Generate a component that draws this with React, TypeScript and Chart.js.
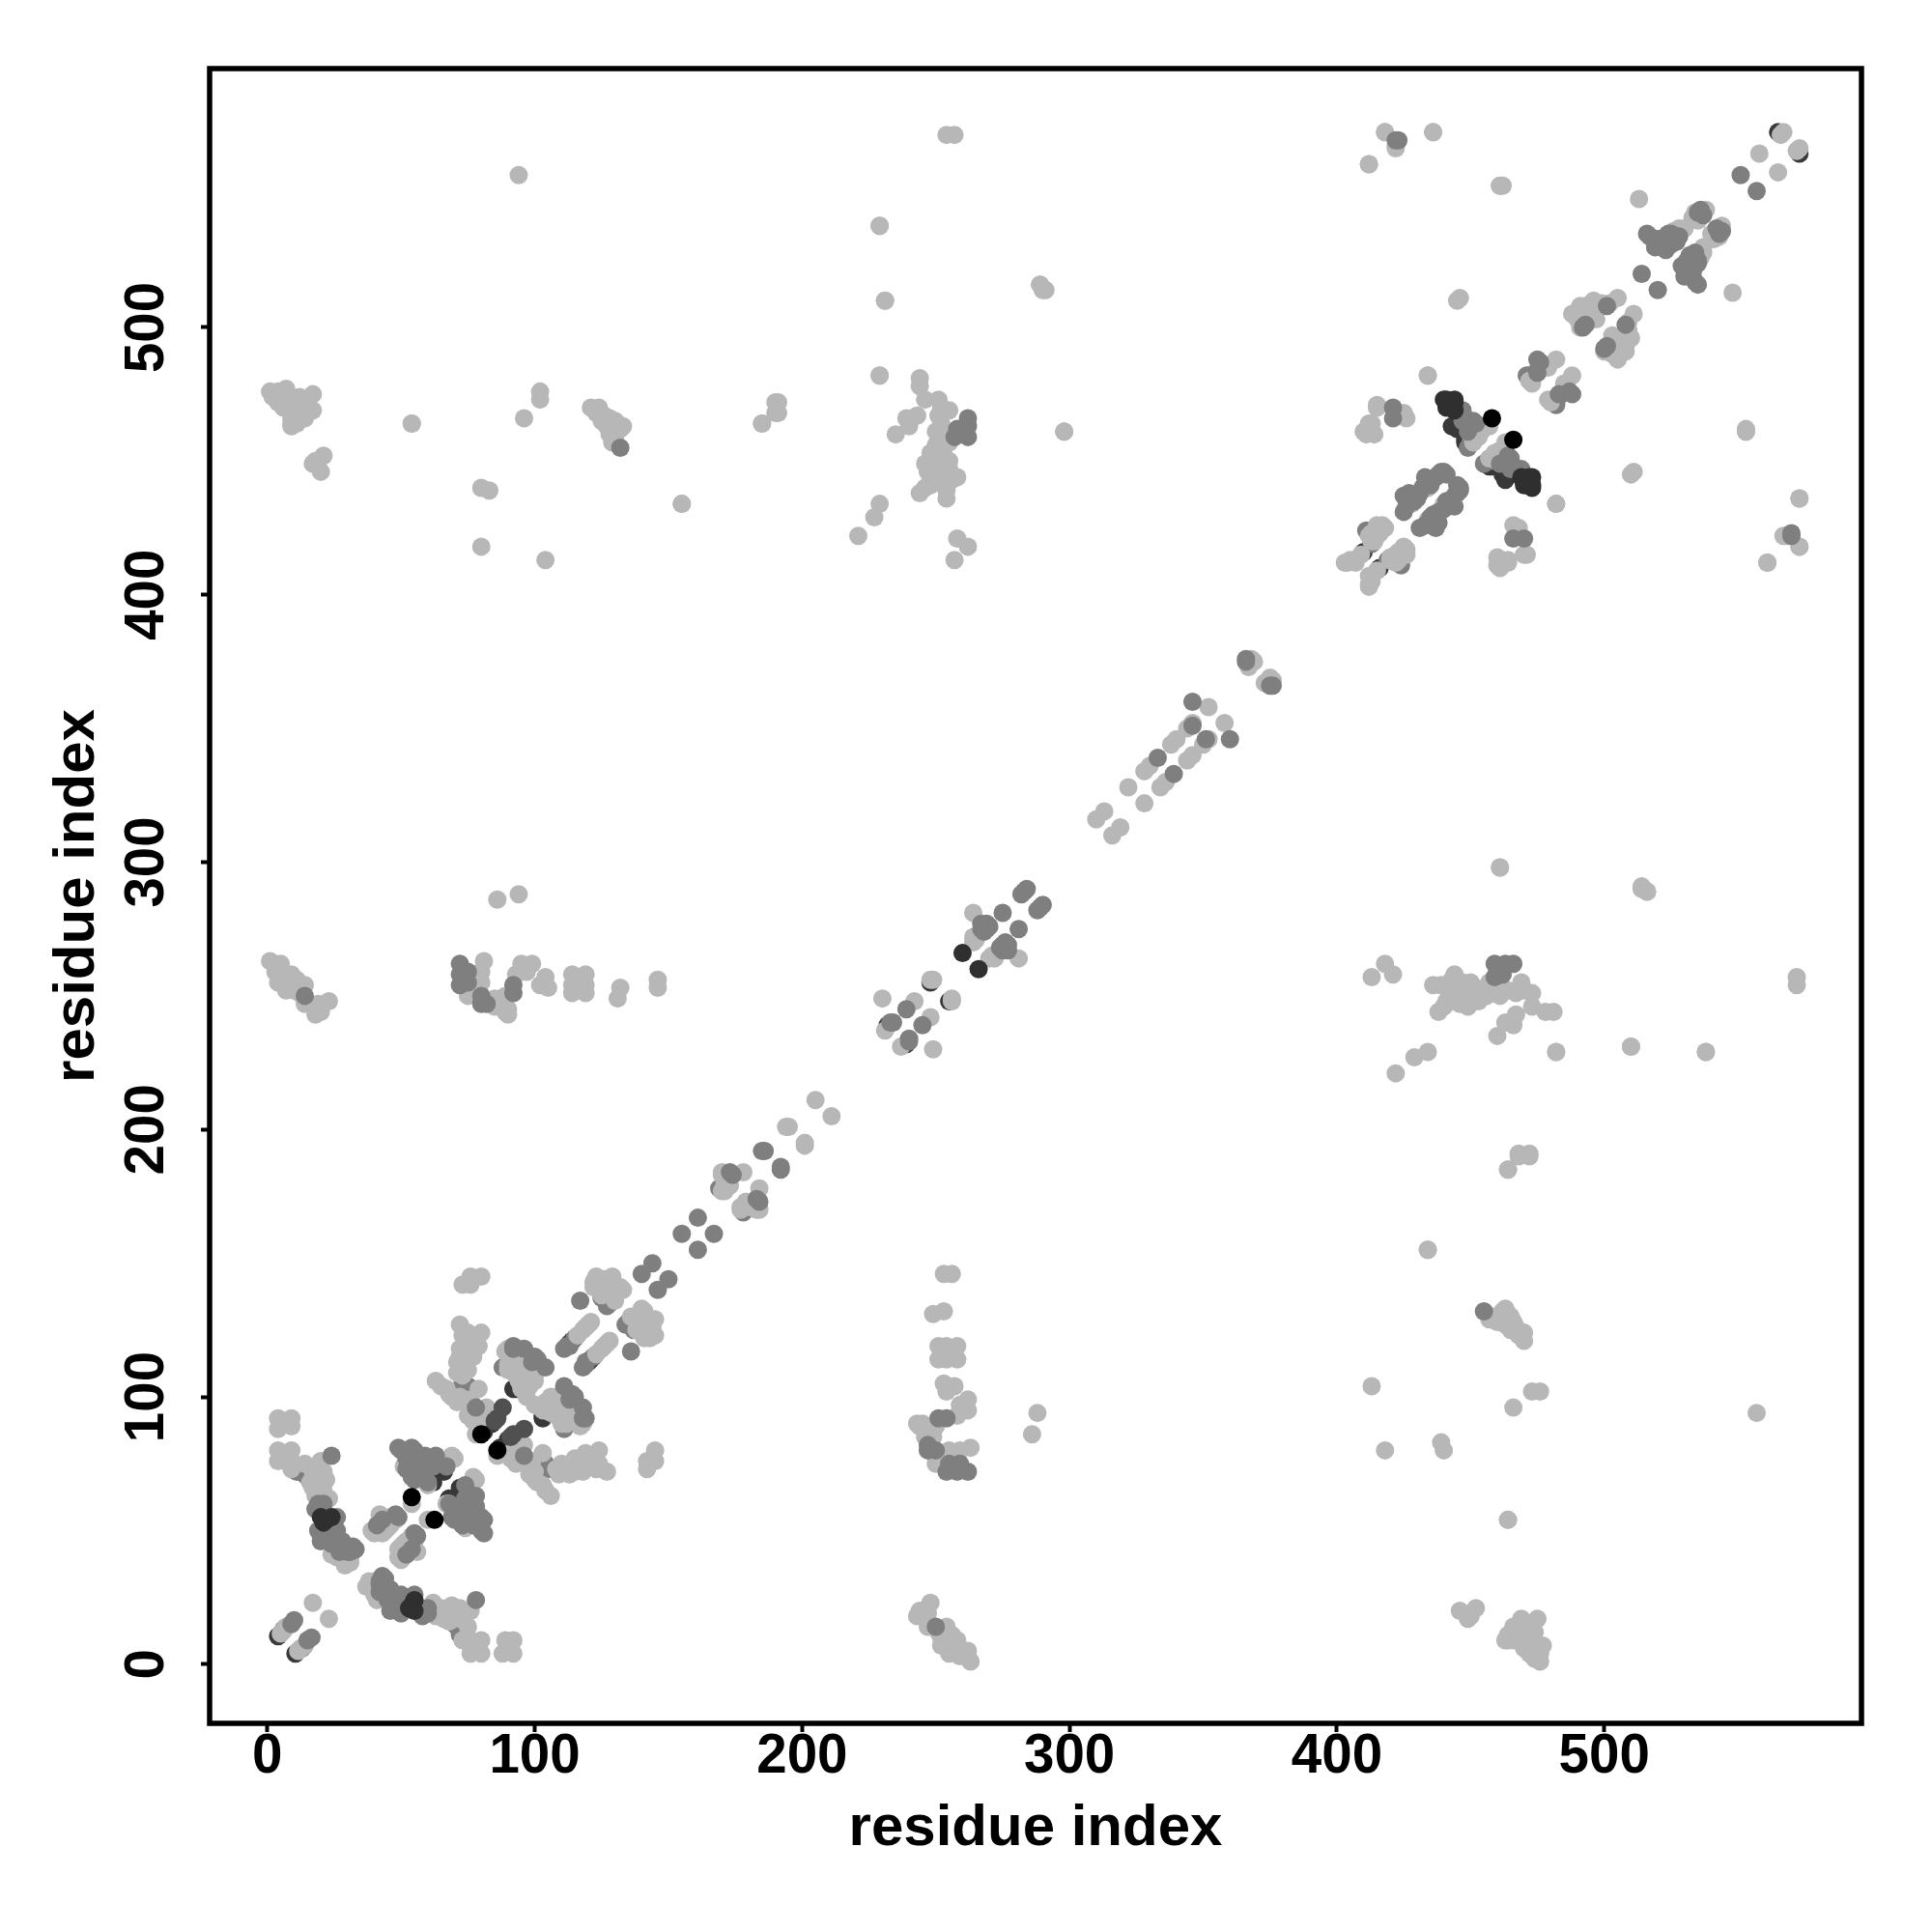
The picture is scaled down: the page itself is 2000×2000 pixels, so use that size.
import React, { useEffect, useRef } from "react";
import { Chart, registerables } from "chart.js";

Chart.register(...registerables);

type Pair = [number, number];

const tickValues = [0, 100, 200, 300, 400, 500];
const axisTitle = "residue index";

const darkLow: Pair[] = [
  [4, 10.5], [75, 114], [81, 87], [84, 90], [92, 103], [93, 103], [95, 115], [113, 120], [114, 121], [129, 142], [128, 136],
  [232, 239], [410, 416], [248, 255], [62, 70], [66, 72], [62, 68], [448, 457], [448, 458], [565, 573], [445, 462], [443, 463],
];
const midLow: Pair[] = [
  [11, 72], [14, 71], [15, 70], [6, 13], [111, 118], [112, 119], [75, 104], [74, 100], [76, 94], [76, 118],
  [88, 111], [127, 134], [125, 137], [128, 135], [169, 178], [411, 424], [413, 419], [414, 423], [472, 482],
  [475, 484], [471, 482], [449, 455], [84, 93], [115, 122], [113, 119], [73, 105], [74, 102], [450, 457],
];
const light: Pair[] = [
  [5, 11.5], [6, 12.5], [7, 14], [17, 23],
  [4, 92], [9, 92], [4, 88], [9, 89], [6, 90], [4, 80], [9, 80], [4, 76], [9, 76], [9, 73], [14, 75], [20, 76], [17, 72], [16, 68], [22, 69], [21, 65], [17, 66], [18, 63],
  [20, 66], [19, 68], [18, 70], [20, 70], [21, 72], [23, 62], [22, 62], [20, 63], [21, 58],
  [26, 40], [29, 37], [24, 41], [31, 38], [31, 40],
  [42, 56], [40, 49], [45, 53], [47, 55], [44, 50], [54, 60], [51, 74], [60, 68], [69, 78], [67, 60], [77, 70],
  [41, 50], [43, 52], [42, 53], [44, 54], [46, 52], [46, 55], [39, 50], [45, 51], [43, 49], [44, 53], [46, 54], [48, 54],
  [72, 127], [80, 124], [73, 123], [79, 119], [72, 118], [71, 113], [75, 110], [71, 109], [75, 124], [73, 142], [76, 145], [80, 145], [76, 142], [73, 114],
  [72, 115], [74, 120], [78, 120], [77, 115], [74, 112], [72, 110], [73, 108],
  [63, 106], [67, 103], [65, 104], [71, 98], [76, 99], [82, 96], [75, 93], [78, 86], [77, 91], [79, 103], [69, 100], [68, 101], [72, 100], [74, 98], [78, 94], [80, 92], [78, 91],
  [90, 118], [90, 112], [93, 108], [97, 103], [96, 110], [92, 113], [97, 106], [90, 117], [97, 100], [89, 117], [90, 110],
  [91, 115], [93, 116], [94, 112], [96, 108], [98, 104], [92, 110], [94, 106], [96, 104], [100, 108], [95, 103], [100, 106], [99, 110],
  [121, 128], [118, 125], [119, 126], [120, 127], [116, 123], [123, 145], [122, 141], [127, 142], [133, 140], [130, 136], [125, 138], [124, 144], [124, 142],
  [126, 140], [128, 143], [131, 139], [126, 144], [129, 145], [125, 140], [132, 141], [122, 143],
  [170, 183], [170, 177], [173, 179], [178, 184], [170, 184], [172, 181], [171, 180], [171, 177],
  [194, 201], [195, 201], [205, 211],
  [230, 249], [242, 248], [231, 237], [249, 256], [248, 256],
  [264, 281], [265, 271], [264, 272], [264, 270],
  [310, 316], [313, 319], [322, 328], [328, 334], [330, 336], [338, 344], [340, 346], [344, 350], [346, 352], [352, 358],
  [367, 373], [369, 375], [368, 376],
  [94, 557],
  [1, 476], [4, 476], [7, 477], [9, 463], [12, 474], [17, 475], [11, 469], [17, 469], [4, 472], [7, 473], [10, 468], [15, 468], [14, 472], [18, 450], [21, 452], [20, 446], [17, 449],
  [2, 474], [5, 474], [8, 470], [9, 466], [6, 470], [12, 470], [14, 466], [11, 464],
  [54, 464], [96, 466], [102, 476], [102, 473], [80, 440], [83, 439], [80, 418], [104, 413],
  [121, 470], [124, 470], [126, 467], [130, 465], [131, 464], [127, 463], [132, 462], [128, 460], [129, 457], [123, 468], [128, 466], [125, 465], [133, 463], [130, 460], [129, 462], [130, 458],
  [155, 434], [185, 464], [191, 472], [191, 468],
  [221, 422], [227, 429], [229, 434], [229, 482], [244, 481], [244, 478], [235, 460], [239, 466], [243, 467], [240, 463], [246, 473], [251, 473], [255, 469], [251, 467], [250, 461], [250, 456], [255, 457], [249, 450], [255, 450], [249, 445], [255, 447], [258, 444], [244, 438], [246, 440], [254, 436], [254, 439], [251, 442],
  [248, 453], [252, 455], [246, 449], [247, 446], [253, 452], [250, 448], [252, 444], [256, 443], [252, 464], [253, 460], [252, 470], [248, 443], [248, 441],
  [258, 421], [262, 418], [257, 413], [298, 461], [289, 516], [291, 514], [229, 538], [231, 510], [254, 572], [257, 572],
  [412, 561], [418, 573], [422, 568], [436, 573], [461, 553], [462, 553], [446, 511], [434, 482],
  [86, 286], [94, 288], [461, 298],
  [1, 263], [5, 262], [3, 259], [9, 258], [7, 252], [10, 252], [14, 254], [14, 247], [19, 247], [23, 248], [18, 243], [20, 244], [4, 255], [6, 256], [8, 254], [11, 256], [12, 251], [20, 245],
  [75, 250], [81, 263], [80, 259], [80, 255], [85, 249], [89, 250], [89, 244], [90, 243], [87, 247], [93, 258], [95, 262], [99, 262], [97, 259], [85, 246], [88, 246], [90, 245],
  [104, 257], [102, 254], [105, 253], [114, 258], [119, 258], [114, 254], [119, 254], [114, 251], [119, 251], [132, 253], [131, 249], [146, 256], [146, 253],
  [413, 461], [410, 461], [412, 464], [415, 471], [467, 425], [425, 468], [426, 466], [415, 470], [413, 464], [411, 460], [414, 460],
  [452, 462], [451, 457], [453, 459], [454, 461], [451, 462], [450, 460], [457, 463], [451, 458], [455, 463],
  [434, 440], [428, 434], [404, 412], [407, 412], [409, 415], [415, 424], [414, 420], [403, 412], [405, 413],
  [412, 422], [413, 423], [415, 422], [416, 424], [415, 426], [418, 425], [416, 423], [413, 420], [417, 426],
  [482, 488], [473, 479], [479, 485], [472, 480],
  [493, 508], [495, 505], [497, 507], [492, 503], [495, 508], [502, 509], [505, 511], [491, 508], [490, 506], [493, 506], [496, 510], [494, 503], [497, 503], [499, 509], [490, 503], [491, 500], [488, 505],
  [513, 548], [538, 544], [526, 536], [533, 541], [535, 540], [534, 543], [530, 537], [528, 537], [558, 565], [567, 573], [566, 572],
  [567, 422], [573, 418], [573, 436], [561, 412], [482, 434], [464, 185], [468, 190], [472, 190], [464, 54], [434, 155], [464, 9],
  [514, 290], [516, 289], [510, 445], [553, 461], [482, 229], [538, 229], [510, 231],
];
const midHigh: Pair[] = [
  [9, 15], [10, 16.5], [24, 78], [19, 60], [21, 60], [18, 58],
  [21, 49], [26, 50], [19, 50], [24, 45], [28, 46], [22, 47], [30, 44], [33, 43], [27, 42], [20, 46], [23, 52], [25, 47], [27, 46], [30, 42], [31, 42], [32, 44], [25, 46], [24, 48], [22, 50], [23, 51], [25, 52], [26, 55],
  [48, 56], [41, 52], [43, 54], [49, 55],
  [49, 81], [54, 81], [52, 77], [52, 73], [54, 70], [59, 78], [63, 78], [62, 74], [67, 74], [57, 71],
  [68, 60], [63, 76], [59, 77], [55, 69], [55, 73], [54, 76], [55, 80], [50, 80],
  [78, 96], [92, 119], [96, 118], [100, 115], [104, 111], [92, 118], [99, 113], [101, 114],
  [117, 136], [140, 146], [144, 150], [155, 161], [161, 167], [174, 183], [173, 184],
  [185, 192], [186, 192], [239, 245], [234, 240], [233, 240],
  [267, 277], [270, 276], [275, 281], [268, 274], [269, 275], [267, 275], [269, 277], [282, 288], [284, 290], [283, 289],
  [333, 339], [346, 360], [346, 351], [366, 375], [366, 376],
  [132, 455], [262, 466], [262, 463], [258, 462], [257, 459], [262, 459],
  [447, 469], [451, 465], [448, 466], [447, 465], [449, 461], [452, 464],
  [438, 445], [441, 445], [429, 435], [426, 437], [425, 431], [431, 438], [425, 437], [430, 436], [435, 441],
  [427, 438], [428, 436], [432, 440], [434, 443], [433, 444], [426, 433], [427, 437], [437, 444], [439, 446], [440, 446],
  [476, 487], [475, 483], [475, 488], [421, 470], [421, 466], [423, 570], [570, 422],
  [492, 500], [501, 508], [493, 501], [514, 520], [517, 534], [524, 535], [523, 529], [528, 534], [525, 535], [516, 535], [535, 543], [536, 544], [551, 557],
  [521, 533], [522, 531], [520, 533], [519, 530], [525, 531], [527, 532], [523, 534], [526, 534], [537, 542],
  [72, 262], [72, 258], [72, 254], [75, 259], [75, 255], [80, 250], [80, 247], [82, 247], [92, 251], [92, 254], [14, 250],
];
const midDark: Pair[] = [
  [88, 96], [86, 92], [85, 91],
];
const darkHigh: Pair[] = [
  [20, 55], [24, 55], [22, 54], [21, 53], [260, 266],
  [441, 472], [444, 472], [441, 470], [444, 469], [440, 473], [443, 470], [441, 473], [444, 473],
];
const black: Pair[] = [
  [54, 62.5], [80, 86], [458, 466],
];

const mirror = (pairs: Pair[]) =>
  pairs.flatMap(([i, j]) => [{ x: i, y: j }, { x: j, y: i }]);

const borderPlugin = {
  id: "frame",
  afterDraw(chart: any) {
    const { ctx, chartArea: a } = chart;
    ctx.save();
    ctx.strokeStyle = "#000";
    ctx.lineWidth = 5.5;
    ctx.strokeRect(a.left, a.top, a.right - a.left, a.bottom - a.top);
    ctx.restore();
  },
};

export default function App() {
  const ref = useRef<HTMLCanvasElement>(null);
  useEffect(() => {
    const tickFont = { family: "'Liberation Sans'", weight: "bold" as const, size: 56.5 };
    const titleFont = { family: "'Liberation Sans'", weight: "bold" as const, size: 60 };
    const layer = (pairs: Pair[], color: string) => ({
      data: mirror(pairs),
      backgroundColor: color,
      borderWidth: 0,
      pointRadius: 9.5,
      showLine: false,
    });
    const grid = { display: true, drawOnChartArea: false, drawTicks: true, tickLength: 9, tickWidth: 4, tickColor: "#000" };
    const chart = new Chart(ref.current!, {
      type: "scatter",
      data: {
        datasets: [
          layer(black, "#000000"),
          layer(darkHigh, "#2f2f2f"),
          layer(midDark, "#505050"),
          layer(midHigh, "#7f7f7f"),
          layer(light, "#b7b7b7"),
          layer(midLow, "#7f7f7f"),
          layer(darkLow, "#383838"),
        ],
      },
      options: {
        animation: false,
        responsive: false,
        layout: { padding: { left: 0, top: 71, right: 73, bottom: 0 } },
        plugins: { legend: { display: false }, tooltip: { enabled: false } },
        scales: {
          x: {
            type: "linear",
            min: -21.6,
            max: 596.2,
            afterFit: (s: any) => { s.height = 216; },
            grid,
            border: { display: false },
            ticks: { stepSize: 100, includeBounds: false, color: "#000", font: tickFont, padding: -7, maxRotation: 0, callback: (v: any) => (tickValues.includes(v) ? String(v) : "") },
            title: { display: true, text: axisTitle, color: "#000", font: titleFont, padding: { top: 0, bottom: 71 } },
          },
          y: {
            type: "linear",
            min: -22.1,
            max: 596.8,
            afterFit: (s: any) => { s.width = 217; },
            grid,
            border: { display: false },
            ticks: { stepSize: 100, includeBounds: false, color: "#000", font: tickFont, padding: 7, minRotation: 90, maxRotation: 90, crossAlign: "center", callback: (v: any) => (tickValues.includes(v) ? String(v) : "") },
            title: { display: true, text: axisTitle, color: "#000", font: titleFont, padding: { top: 44, bottom: 0 } },
          },
        },
      },
      plugins: [borderPlugin],
    } as any);
    return () => chart.destroy();
  }, []);
  return (
    <div style={{ position: "absolute", left: 0, top: 0, width: 2000, height: 2000, background: "#fff" }}>
      <canvas ref={ref} width={2000} height={2000} style={{ display: "block" }} />
    </div>
  );
}
